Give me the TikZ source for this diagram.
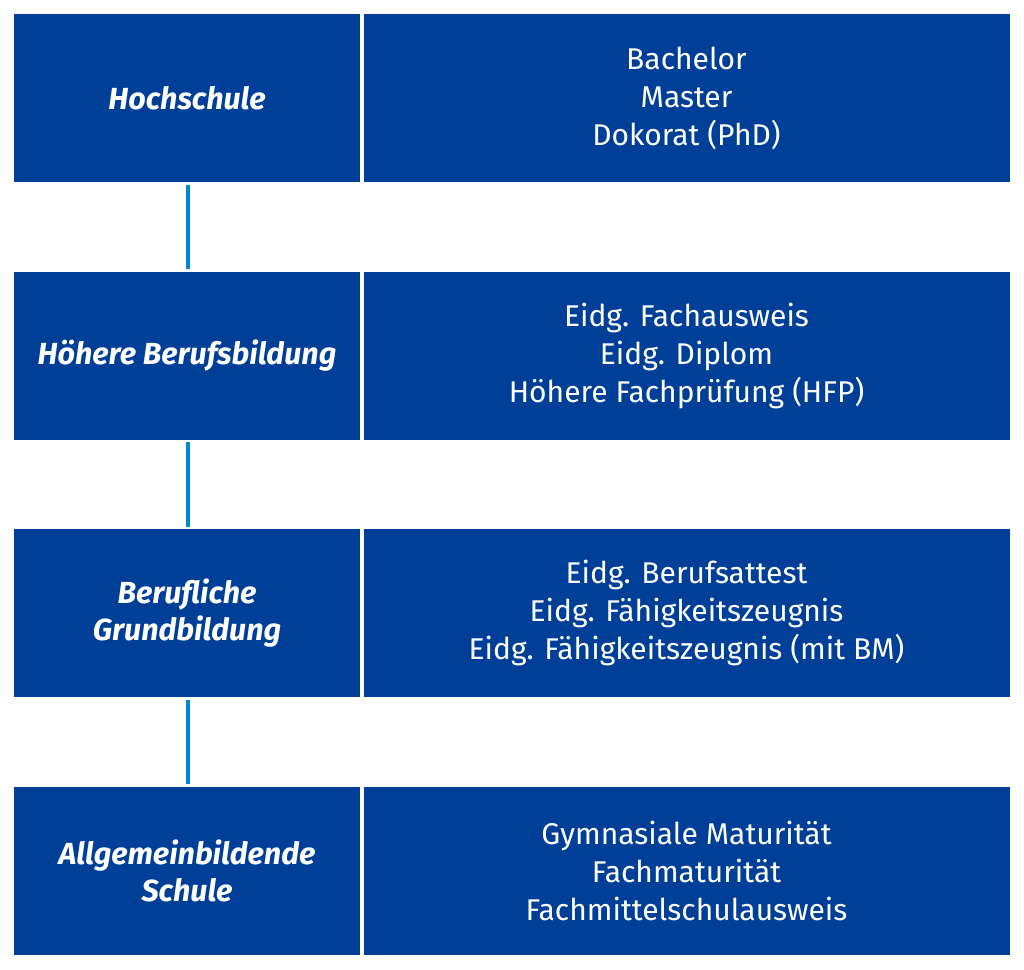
\documentclass[tikz,border=0pt]{standalone}
\usepackage{fontspec}
\setmainfont{Fira Sans}
\definecolor{boxblue}{HTML}{003F98}
\definecolor{linkblue}{HTML}{0089CF}
\begin{document}
\begin{tikzpicture}[x=1pt,y=-1pt,
  every node/.style={inner sep=0pt,outer sep=0pt},
  levelbox/.style={fill=boxblue,draw=white,line width=0.8pt,minimum width=347pt,minimum height=169pt,anchor=north west,text=white,align=center,font=\fontsize{30.5}{37}\selectfont\bfseries\itshape},
  degreebox/.style={fill=boxblue,draw=white,line width=0.8pt,minimum width=647pt,minimum height=169pt,anchor=north west,text=white,align=center,font=\fontsize{30}{38}\selectfont},
  link/.style={draw=linkblue,line width=4pt}]
\useasboundingbox[fill=white] (0,0) rectangle (1024,969);
\node[levelbox] (l1) at (13.5,13.5) {Hochschule};
\node[degreebox] (d1) at (363,13.5) {Bachelor\\Master\\Dokorat (PhD)};
\node[levelbox] (l2) at (13.5,271) {Höhere Berufsbildung};
\node[degreebox] (d2) at (363,271) {Eidg. Fachausweis\\Eidg. Diplom\\Höhere Fachprüfung (HFP)};
\node[levelbox] (l3) at (13.5,528.5) {Berufliche\\Grundbildung};
\node[degreebox] (d3) at (363,528.5) {Eidg. Berufsattest\\Eidg. Fähigkeitszeugnis\\Eidg. Fähigkeitszeugnis (mit BM)};
\node[levelbox] (l4) at (13.5,786) {Allgemeinbildende\\Schule};
\node[degreebox] (d4) at (363,786) {Gymnasiale Maturität\\Fachmaturität\\Fachmittelschulausweis};
\draw[link] ([xshift=1pt,yshift=-2pt]l1.south) -- ([xshift=1pt,yshift=2pt]l2.north);
\draw[link] ([xshift=1pt,yshift=-2pt]l2.south) -- ([xshift=1pt,yshift=2pt]l3.north);
\draw[link] ([xshift=1pt,yshift=-2pt]l3.south) -- ([xshift=1pt,yshift=2pt]l4.north);
\end{tikzpicture}
\end{document}
